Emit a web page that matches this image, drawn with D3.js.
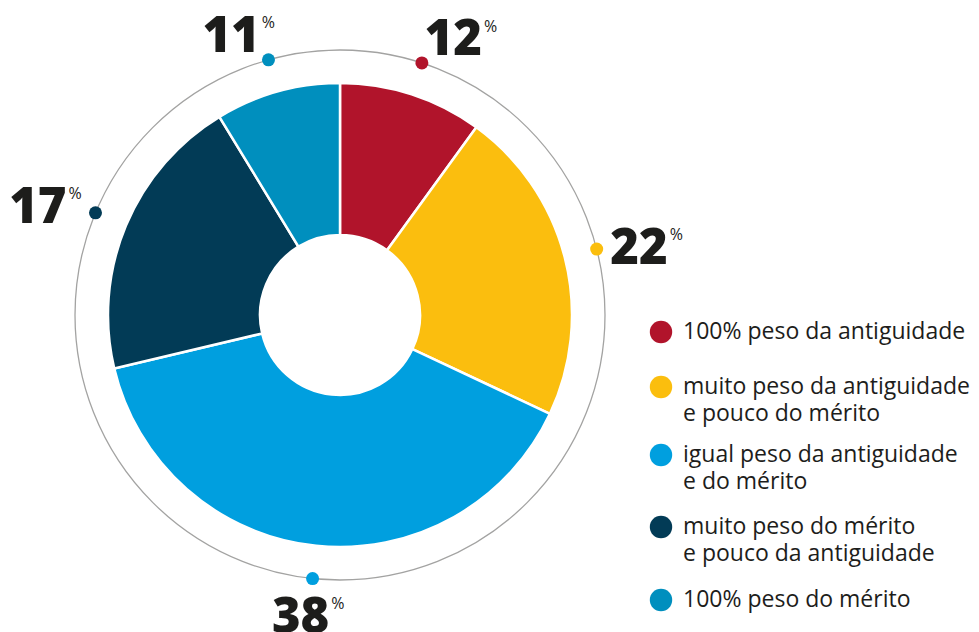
<!DOCTYPE html>
<html>
<head>
<meta charset="utf-8">
<script src="https://cdn.jsdelivr.net/npm/d3@7"></script>
<style>
  body { margin: 0; background: #fff; }
  svg { display: block; }
</style>
</head>
<body>
<svg width="979" height="632"></svg>
<script>
// categories (legend text, lines split by "\n")
var categories = [
    "100% peso da antiguidade",
    "muito peso da antiguidade\ne pouco do mérito",
    "igual peso da antiguidade\ne do mérito",
    "muito peso do mérito\ne pouco da antiguidade",
    "100% peso do mérito"
];
// percentages printed next to the ring
var percentLabels = [12, 22, 38, 17, 11];
// slice sizes as drawn in the picture
var sliceShares = [10, 22, 39.3, 20, 8.7];
var colors = ["#b1142b", "#fbbe0e", "#009fdf", "#023b56", "#008fbe"];

var svg = d3.select("svg");
var cx = 340, cy = 315;
var innerR = 80, outerR = 232, ringR = 265;

var g = svg.append("g").attr("transform", "translate(" + cx + "," + cy + ")");

var pie = d3.pie().sort(null).value(function (d) { return d; });
var arcs = pie(sliceShares);
var arc = d3.arc().innerRadius(innerR).outerRadius(outerR);

g.selectAll(".slice")
    .data(arcs)
    .enter().append("path")
    .attr("class", "slice")
    .attr("d", arc)
    .attr("fill", function (d, i) { return colors[i]; })
    .attr("stroke", "#fff")
    .attr("stroke-width", 2.5);

// thin outer ring
g.append("circle")
    .attr("r", ringR)
    .attr("fill", "none")
    .attr("stroke", "#a3a3a2")
    .attr("stroke-width", 1.3);

function midAngle(d) { return (d.startAngle + d.endAngle) / 2; }

g.selectAll(".dot")
    .data(arcs)
    .enter().append("circle")
    .attr("class", "dot")
    .attr("cx", function (d) { return ringR * Math.sin(midAngle(d)); })
    .attr("cy", function (d) { return -ringR * Math.cos(midAngle(d)); })
    .attr("r", 6.5)
    .attr("fill", function (d, i) { return colors[i]; });

// percentage labels
var numSize = 49, capH = numSize * 0.714;
var labels = g.selectAll(".pct")
    .data(arcs)
    .enter().append("text")
    .attr("class", "pct")
    .attr("fill", "#1d1d1b")
    .style("font-family", "'Open Sans', sans-serif");

labels.append("tspan")
    .style("font-size", numSize + "px")
    .style("font-weight", 800)
    .text(function (d, i) { return percentLabels[i]; });
labels.append("tspan")
    .attr("dx", 2)
    .attr("dy", -(capH - 11.5))
    .style("font-size", "16px")
    .style("font-weight", 400)
    .text("%");

labels.each(function (d) {
    var bb = this.getBBox();
    var a = midAngle(d);
    var dx = Math.sin(a), dy = -Math.cos(a);
    var px = ringR * dx, py = ringR * dy;
    var k = Math.min(1, Math.pow(Math.abs(dx) / 0.35, 2));
    var ccx = px + Math.sign(dx) * 50 * k;
    var ccy = py + dy * 32 + 5;
    d3.select(this).attr("transform", "translate(" + (ccx - bb.x - bb.width / 2) + "," + (ccy + capH / 2) + ")");
});

// legend
var legendY = [332, 387, 455, 527, 600];
var legend = svg.append("g").attr("transform", "translate(661,0)");
var items = legend.selectAll(".item")
    .data(categories)
    .enter().append("g")
    .attr("class", "item")
    .attr("transform", function (d, i) { return "translate(0," + legendY[i] + ")"; });

items.append("circle")
    .attr("r", 11.2)
    .attr("fill", function (d, i) { return colors[i]; });

items.append("text")
    .attr("y", 7)
    .attr("fill", "#1d1d1b")
    .style("font-family", "'Open Sans', sans-serif")
    .style("font-size", "23px")
    .selectAll("tspan")
    .data(function (d) { return d.split("\n"); })
    .enter().append("tspan")
    .attr("x", 22)
    .attr("dy", function (d, i) { return i ? 27 : 0; })
    .text(function (d) { return d; });
</script>
</body>
</html>
